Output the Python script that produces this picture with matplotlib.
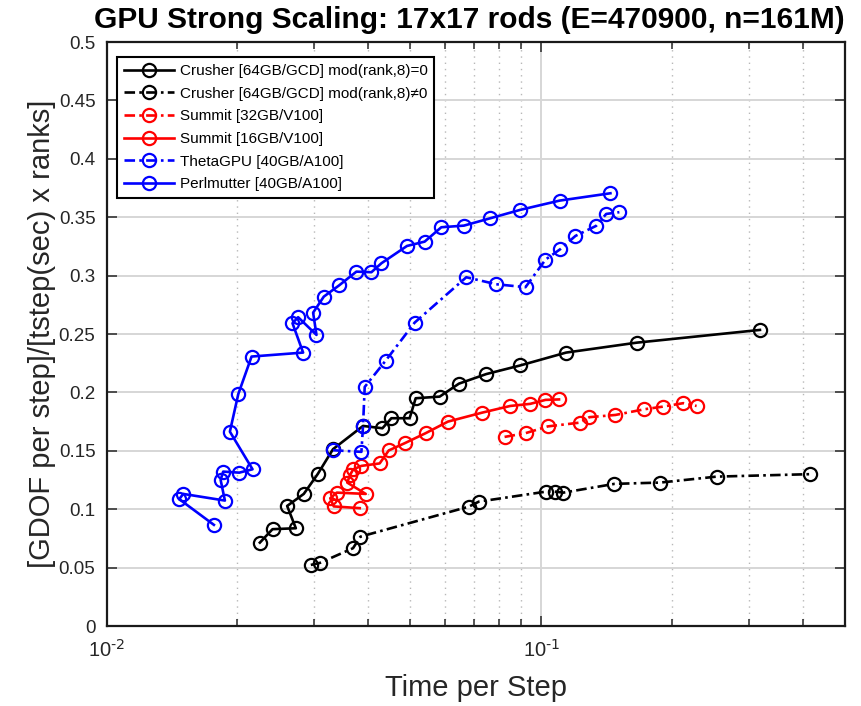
import matplotlib
matplotlib.use('Agg')
import matplotlib.pyplot as plt
from matplotlib.ticker import FixedLocator, FixedFormatter, NullFormatter

plt.rcParams['font.family'] = ['Liberation Sans', 'DejaVu Sans']
plt.rcParams['mathtext.default'] = 'regular'

# ---------------- data ----------------
crusher0_t = [0.02253, 0.02409, 0.02726, 0.02603, 0.02843, 0.03062, 0.03319, 0.03891,
              0.04312, 0.04522, 0.04981, 0.05143, 0.05839, 0.06467, 0.07474, 0.0895,
              0.1141, 0.1659, 0.3186]
crusher0_g = [0.0714, 0.0829, 0.0837, 0.1028, 0.1131, 0.1302, 0.1514, 0.1713,
              0.1693, 0.1779, 0.1779, 0.1950, 0.1964, 0.2075, 0.2157, 0.2231,
              0.2341, 0.2426, 0.2535]

crusher1_t = [0.02951, 0.03094, 0.0369, 0.03838, 0.06817, 0.07188, 0.1028, 0.1073,
              0.1125, 0.1474, 0.1877, 0.2532, 0.415]
crusher1_g = [0.0523, 0.0540, 0.0666, 0.0765, 0.1022, 0.1065, 0.1151, 0.1151,
              0.1142, 0.1217, 0.1228, 0.1279, 0.1300]

summit32_t = [0.08236, 0.09203, 0.1036, 0.1225, 0.1291, 0.1482, 0.1728, 0.1903,
              0.2123, 0.2278]
summit32_g = [0.1619, 0.1651, 0.1709, 0.1741, 0.1788, 0.1807, 0.1856, 0.1878,
              0.1908, 0.1884]

summit16_t = [0.03824, 0.03332, 0.03271, 0.03385, 0.03947, 0.03579, 0.03633, 0.03694,
              0.03858, 0.0425, 0.04458, 0.04852, 0.05422, 0.06101, 0.07317, 0.08488,
              0.09434, 0.1023, 0.1099]
summit16_g = [0.1009, 0.1024, 0.1094, 0.1142, 0.1131, 0.1228, 0.1294, 0.1341,
              0.1371, 0.1392, 0.1503, 0.1565, 0.1651, 0.1750, 0.1827, 0.1884,
              0.1902, 0.1936, 0.1940]

theta_t = [0.03319, 0.03858, 0.03891, 0.03926, 0.04387, 0.05116, 0.06725, 0.07881,
           0.09203, 0.1023, 0.1106, 0.1199, 0.1338, 0.1411, 0.1513]
theta_g = [0.1505, 0.1491, 0.1713, 0.2047, 0.2272, 0.2598, 0.2986, 0.2926,
           0.2901, 0.3137, 0.3226, 0.3340, 0.3426, 0.3528, 0.3543]

perl_t = [0.01766, 0.01470, 0.01501, 0.01872, 0.0183, 0.01855, 0.0202, 0.02167,
          0.01922, 0.0201, 0.02156, 0.02833, 0.02678, 0.02759, 0.03041, 0.02987,
          0.03161, 0.03427, 0.03757, 0.04068, 0.0429, 0.04912, 0.05393, 0.05891,
          0.06641, 0.07635, 0.0895, 0.1102, 0.1443]
perl_g = [0.0866, 0.1086, 0.1131, 0.1074, 0.1251, 0.1322, 0.1313, 0.1342,
          0.1664, 0.1987, 0.2307, 0.2341, 0.2592, 0.2644, 0.2492, 0.2683,
          0.2820, 0.2916, 0.3034, 0.3029, 0.3106, 0.3254, 0.3291, 0.3414,
          0.3428, 0.3491, 0.3563, 0.3642, 0.3705]

labels = ['Crusher [64GB/GCD] mod(rank,8)=0',
          'Crusher [64GB/GCD] mod(rank,8)\u22600',
          'Summit [32GB/V100]',
          'Summit [16GB/V100]',
          'ThetaGPU [40GB/A100]',
          'Perlmutter [40GB/A100]']

yticks = [0, 0.05, 0.1, 0.15, 0.2, 0.25, 0.3, 0.35, 0.4, 0.45, 0.5]
ytick_labels = ['0', '0.05', '0.1', '0.15', '0.2', '0.25', '0.3', '0.35', '0.4', '0.45', '0.5']
xticks = [0.01, 0.1]
xtick_labels = [r'$10^{\text{-2}}$', r'$10^{\text{-1}}$']
xminor = [0.02, 0.03, 0.04, 0.05, 0.06, 0.07, 0.08, 0.09, 0.2, 0.3, 0.4]

title = 'GPU Strong Scaling: 17x17 rods (E=470900, n=161M)'
xlabel = 'Time per Step'
ylabel = '[GDOF per step]/[tstep(sec) x ranks]'

# ---------------- figure ----------------
fig = plt.figure(figsize=(8.62, 7.06), dpi=100)
ax = fig.add_axes([0.1236, 0.1133, 0.8567, 0.8272])

dashdot = (0, (4, 1.6, 1, 1.6))
common = dict(marker='o', mfc='none', ms=9.5, mew=1.6, lw=1.9)

ax.plot(crusher0_t, crusher0_g, color='k', ls='-', label=labels[0], **common)
ax.plot(crusher1_t, crusher1_g, color='k', ls=dashdot, label=labels[1], **common)
ax.plot(summit32_t, summit32_g, color='#ff0000', ls=dashdot, label=labels[2], **common)
ax.plot(summit16_t, summit16_g, color='#ff0000', ls='-', label=labels[3], **common)
ax.plot(theta_t, theta_g, color='#0000ff', ls=dashdot, label=labels[4], **common)
ax.plot(perl_t, perl_g, color='#0000ff', ls='-', label=labels[5], **common)

ax.set_xscale('log')
ax.set_xlim(0.01, 0.5)
ax.set_ylim(0, 0.5)

ax.xaxis.set_major_locator(FixedLocator(xticks))
ax.xaxis.set_major_formatter(FixedFormatter(xtick_labels))
ax.xaxis.set_minor_locator(FixedLocator(xminor))
ax.xaxis.set_minor_formatter(NullFormatter())
ax.yaxis.set_major_locator(FixedLocator(yticks))
ax.yaxis.set_major_formatter(FixedFormatter(ytick_labels))

ax.set_axisbelow(True)
ax.yaxis.grid(True, which='major', color='#d6d6d6', lw=1.4, ls='-')
ax.xaxis.grid(True, which='major', color='#d6d6d6', lw=1.4, ls='-')
ax.xaxis.grid(True, which='minor', color='#b8b8b8', lw=1.0, ls=(0, (1, 3.5)))

ax.tick_params(which='both', direction='in', top=True, right=True,
               labelsize=13.5, labelcolor='#262626', color='#262626', width=1.1)
ax.tick_params(which='major', length=7, pad=8)
ax.tick_params(axis='x', which='major', labelsize=14.5, pad=9)
ax.tick_params(which='minor', length=5)

for sp in ax.spines.values():
    sp.set_linewidth(1.6)
    sp.set_color('#1a1a1a')

ax.set_title(title, fontsize=21.5, fontweight='bold', pad=10, x=0.491)
ax.set_xlabel(xlabel, fontsize=21, color='#262626', labelpad=10)
ax.set_ylabel(ylabel, fontsize=21, color='#262626', labelpad=2)

leg = ax.legend(loc='upper left', bbox_to_anchor=(0.0142, 0.9743), borderaxespad=0,
                fontsize=11, frameon=True, fancybox=False, edgecolor='k',
                framealpha=1, handlelength=3.3, handletextpad=0.35,
                labelspacing=0.57, borderpad=0.45)
leg.get_frame().set_linewidth(1.5)

fig.savefig('out.png', dpi=100)
